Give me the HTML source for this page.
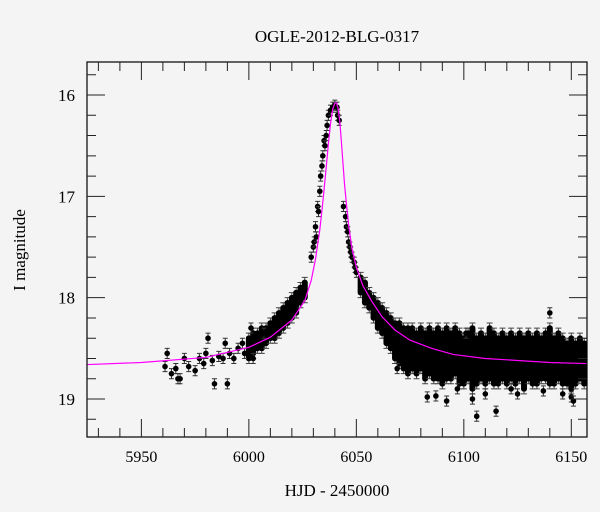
<!DOCTYPE html>
<html><head><meta charset="utf-8"><style>
html,body{margin:0;padding:0;background:#f4f4f4;}
svg{display:block;font-family:"Liberation Serif",serif;}
</style></head><body>
<svg id="chart" width="600" height="512" viewBox="0 0 600 512">
<rect x="0" y="0" width="600" height="512" fill="#f4f4f4"/>
<text x="337" y="42" font-size="17" text-anchor="middle">OGLE-2012-BLG-0317</text>
<text x="337" y="496" font-size="17" text-anchor="middle">HJD - 2450000</text>
<text x="25" y="250" font-size="17" text-anchor="middle" transform="rotate(-90 25 250)">I magnitude</text>
<g id="plot"></g>
</svg>
<script>
const xMin=5924.7, xMax=6157.3, yTop=15.674, yBot=19.375;
const xTicks=[5950,6000,6050,6100,6150];
const yTicks=[16,17,18,19];
const modelT=[5925,5950,5980,6000,6010,6020,6026,6029,6031,6033,6034,6035,6036,6037,6038,6039,6040,6040.8,6041.5,6042.3,6043,6043.7,6044.5,6045.5,6046.5,6048,6050,6053,6057,6062,6068,6075,6085,6095,6110,6125,6140,6157];
const modelM=[18.66,18.64,18.59,18.49,18.39,18.22,18.03,17.83,17.62,17.33,17.14,16.93,16.71,16.48,16.28,16.14,16.08,16.08,16.13,16.26,16.45,16.65,16.88,17.1,17.3,17.52,17.7,17.88,18.03,18.19,18.32,18.42,18.5,18.56,18.6,18.62,18.64,18.65];
// individual observations [HJD, mag]
const obs=[[5961,18.68],[5962,18.55],[5964,18.75],[5966,18.7],[5967,18.8],[5968,18.8],[5970,18.6],[5972,18.68],[5975,18.72],[5977,18.6],[5979,18.65],[5980,18.55],[5981,18.4],[5983,18.62],[5984,18.85],[5986,18.58],[5988,18.6],[5989,18.45],[5990,18.85],[5991,18.55],[5993,18.6],[5995,18.5],[5997,18.45],[5998,18.55],[6001,18.3],[6002,18.6],[6007,18.35],
[6029,17.6],[6030,17.5],[6030.4,17.45],[6031,17.3],[6031.4,17.4],[6032,17.1],[6032.4,17.15],[6033,16.95],[6033.4,16.8],[6034,16.7],[6034.4,16.6],[6035,16.45],[6035.4,16.5],[6036,16.4],[6036.4,16.3],[6037,16.2],[6038,16.15],[6039,16.12],[6040,16.1],[6041,16.12],[6041.3,16.2],[6042,16.25],[6044,17.1],[6045,17.2],[6045.4,17.3],[6046,17.35],[6046.4,17.45],[6047,17.5],[6047.4,17.55],[6048,17.6],[6049,17.65],[6049.4,17.7],[6050,17.75],
[6087,18.97],[6092,19.02],[6104,19.0],[6106,19.17],[6115,19.12],[6110,18.95],[6122,18.9],[6140,18.15],[6146,18.95],[6150,18.98],[6151,19.02],[6083,18.98],[6125,18.95],[6137,18.92],[6097,18.9],[6069,18.7],[6101,18.35]];
// dense coverage: per-night brightest/faintest magnitude
const bandT=[6000,6002,6004,6006,6008,6010,6012,6014,6016,6018,6020,6022,6024,6026,6052,6054,6056,6058,6060,6062,6064,6066,6068,6070,6072,6074,6076,6078,6080,6082,6084,6086,6088,6090,6092,6094,6096,6098,6100,6102,6104,6106,6108,6110,6112,6114,6116,6118,6120,6122,6124,6126,6128,6130,6132,6134,6136,6138,6140,6142,6144,6146,6148,6150,6152,6154,6156];
const bandLo=[18.40,18.35,18.35,18.3,18.3,18.25,18.2,18.15,18.1,18.05,18.0,17.95,17.9,17.85,17.8,17.85,17.95,18.0,18.05,18.1,18.15,18.2,18.25,18.25,18.3,18.3,18.3,18.35,18.3,18.35,18.3,18.35,18.3,18.35,18.3,18.35,18.3,18.35,18.4,18.35,18.3,18.4,18.35,18.4,18.3,18.35,18.4,18.35,18.4,18.35,18.4,18.35,18.4,18.35,18.4,18.35,18.4,18.35,18.3,18.4,18.35,18.4,18.45,18.4,18.45,18.4,18.45];
const bandHi=[18.60,18.55,18.5,18.5,18.45,18.4,18.4,18.35,18.3,18.25,18.2,18.15,18.05,18.0,17.95,18.05,18.1,18.2,18.3,18.35,18.45,18.5,18.6,18.65,18.7,18.75,18.7,18.75,18.7,18.8,18.75,18.8,18.8,18.85,18.8,18.8,18.75,18.85,18.85,18.8,18.9,18.85,18.8,18.85,18.8,18.85,18.85,18.8,18.85,18.8,18.85,18.8,18.9,18.8,18.85,18.85,18.8,18.8,18.85,18.85,18.8,18.85,18.85,18.9,18.85,18.8,18.85];
const obsE=0.05;
const svgNS="http://www.w3.org/2000/svg";
const L=87,R=587,T=62,B=437;
function sx(t){return L+(t-xMin)/(xMax-xMin)*(R-L);}
function sy(m){return T+(m-yTop)/(yBot-yTop)*(B-T);}
const plot=document.getElementById('plot');
function mk(tag,attrs){const e=document.createElementNS(svgNS,tag);for(const k in attrs)e.setAttribute(k,attrs[k]);return e;}
const clip=mk('clipPath',{id:'pc'});clip.appendChild(mk('rect',{x:L,y:T,width:R-L,height:B-T}));plot.appendChild(clip);
const pts=mk('g',{'clip-path':'url(#pc)'});


plot.appendChild(pts);
for(let i=0;i<bandT.length;i++){
  const x=sx(bandT[i]),y1=sy(bandLo[i]),y2=sy(bandHi[i]);
  const g=mk('g',{});
  
  
  const e1=sy(bandLo[i]-obsE),e2=sy(bandHi[i]+obsE);
  g.appendChild(mk('path',{d:`M${x},${e1}V${e2}M${x-3},${e1}H${x+3}M${x-3},${e2}H${x+3}`,stroke:'#444','stroke-width':1,fill:'none'}));
  g.appendChild(mk('rect',{x:x-3,y:y1-2.8,width:6,height:y2-y1+5.6,rx:2.8,fill:'#000'}));
  pts.appendChild(g);
}
for(let i=0;i<obs.length;i++){
  const t=obs[i][0],m=obs[i][1];
  const x=sx(t),y=sy(m),y1=sy(m-obsE),y2=sy(m+obsE);
  const g=mk('g',{});
  
  
  g.appendChild(mk('path',{d:`M${x},${y1}V${y2}M${x-2.5},${y1}H${x+2.5}M${x-2.5},${y2}H${x+2.5}`,stroke:'#333','stroke-width':1,fill:'none'}));
  g.appendChild(mk('circle',{cx:x,cy:y,r:2.8,fill:'#000'}));
  pts.appendChild(g);
}
let d='';
for(let i=0;i<modelT.length;i++){d+=(i?'L':'M')+sx(modelT[i]).toFixed(2)+','+sy(modelM[i]).toFixed(2);}
const model=mk('path',{d:d,stroke:'#ff00ff','stroke-width':1.2,fill:'none','clip-path':'url(#pc)'});


plot.appendChild(model);
const frame=mk('rect',{x:L,y:T,width:R-L,height:B-T,fill:'none',stroke:'#000','stroke-width':1.2});


plot.appendChild(frame);
let td='';
for(let v=5930;v<=6150;v+=10){const x=sx(v);const len=(v%50===0)?18:9;td+=`M${x},${B}V${B-len}M${x},${T}V${T+len}`;}
for(let v=15.8;v<=19.31;v+=0.2){const y=sy(v);const maj=Math.abs(v-Math.round(v))<0.01;const len=maj?18:9;td+=`M${L},${y}H${L+len}M${R},${y}H${R-len}`;}
const ticks=mk('path',{d:td,stroke:'#222','stroke-width':1,fill:'none'});


plot.appendChild(ticks);
for(const v of xTicks){
  const t=mk('text',{x:sx(v),y:B+25,'font-size':16,'text-anchor':'middle'});
  t.textContent=v;
  
  
  plot.appendChild(t);
}
for(const v of yTicks){
  const t=mk('text',{x:L-12,y:sy(v)+6,'font-size':17,'text-anchor':'end'});
  t.textContent=v;
  
  
  plot.appendChild(t);
}
</script>
</body></html>
